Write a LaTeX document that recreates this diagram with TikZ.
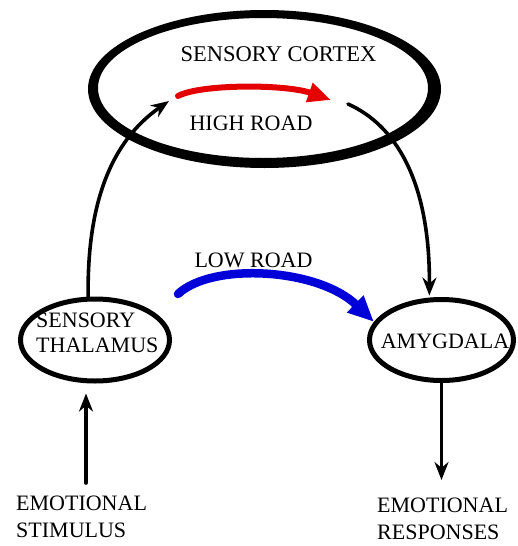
\documentclass[tikz,border=0pt]{standalone}
\usepackage{fontspec}
\setmainfont{Liberation Serif}
\usetikzlibrary{arrows.meta,shapes.geometric}

\tikzset{
  lbl/.style={inner sep=0pt, font=\fontsize{22}{26}\selectfont},
  twoline/.style={lbl, align=left, anchor=north west, font=\fontsize{22}{27}\selectfont},
  region/.style={ellipse, draw, line width=5pt, inner sep=0pt},
  path arrow/.style={line width=3.6pt, line cap=round, -{Stealth[length=18pt,width=14pt]}},
  high road/.style={draw=red!90!black, line width=6pt, line cap=round, -{Triangle[length=23pt,width=19pt]}},
  low road/.style={draw=blue!85!black, line width=8.5pt, line cap=round, -{Triangle[length=26pt,width=22pt]}}
}

\begin{document}
\begin{tikzpicture}[x=1pt,y=-1pt]
  \useasboundingbox (0,0) rectangle (517,546);

  % cortex: a ring, thicker at the sides
  \node[ellipse, minimum width=340pt, minimum height=150pt, inner sep=0pt] (cortex) at (264,89) {};
  \fill[even odd rule]
    (264.5,89) ellipse [x radius=176.5pt, y radius=79pt]
    (263,88)   ellipse [x radius=165pt,   y radius=70pt];
  \node[lbl, font=\fontsize{22.5}{26}\selectfont] (cortextxt) at (278.5,54) {SENSORY CORTEX};
  \node[lbl] (hightxt) at (251,123) {HIGH ROAD};

  % subcortical regions
  \node[region, minimum width=149pt, minimum height=82pt] (thal) at (95,340) {};
  \node[twoline, font=\fontsize{22}{25}\selectfont] (thaltxt) at (36,313) {SENSORY\\THALAMUS};
  \node[region, minimum width=144pt, minimum height=81pt] (amyg) at (441.5,340) {};
  \node[lbl] (amygtxt) at (445,341) {AMYGDALA};
  \node[lbl] (lowtxt) at (253.5,260) {LOW ROAD};

  % input and output
  \node[twoline] (stimtxt) at (16,496) {EMOTIONAL\\STIMULUS};
  \node[twoline] (resptxt) at (377,498) {EMOTIONAL\\RESPONSES};

  % free ends inside the cortex and at the bottom
  \coordinate (hiIn)  at (169,101);
  \coordinate (hiOut) at (348,104);
  \coordinate (redA)  at (178,96);
  \coordinate (redB)  at (331,100);
  \coordinate (blueA) at (178,294);
  \coordinate (stim)  at (86,483);
  \coordinate (resp)  at (441.5,480);

  % high road
  \draw[path arrow] (thal.99) .. controls (87,205) and (110,142) .. (hiIn);
  \draw[high road] (redA) .. controls (200,84) and (285,84) .. (redB);
  \draw[path arrow, shorten >=2pt] (hiOut) .. controls (395,125) and (430,180) .. (amyg.106);

  % low road
  \draw[low road] (blueA) .. controls (212,262) and (318,268) .. (amyg.165);

  % stimulus in, response out
  \draw[path arrow, shorten >=10pt] (stim) -- (stim |- thal.south);
  \draw[path arrow] (amyg.south) -- (resp);
\end{tikzpicture}
\end{document}
